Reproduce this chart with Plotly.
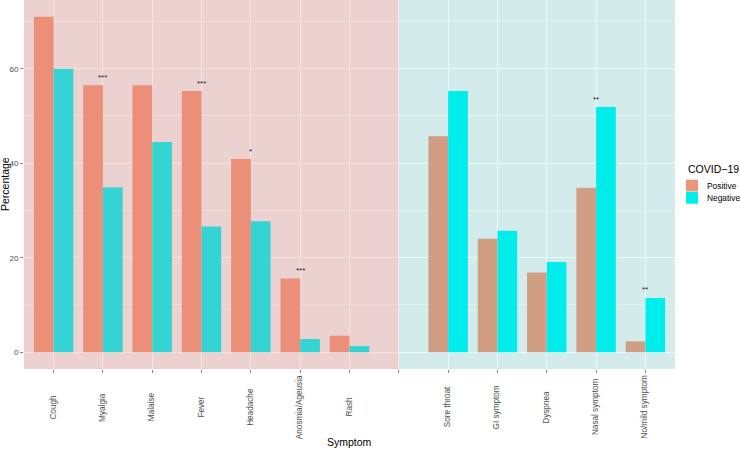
import plotly.graph_objects as go

# ---- data ----
symptoms = ["Cough", "Myalgia", "Malaise", "Fever", "Headache", "Anosmia/Ageusia", "Rash",
            "Sore throat", "GI symptom", "Dyspnea", "Nasal symptom", "No/mild symptom"]
axis_order = ["Cough", "Myalgia", "Malaise", "Fever", "Headache", "Anosmia/Ageusia", "Rash",
              " ", "Sore throat", "GI symptom", "Dyspnea", "Nasal symptom", "No/mild symptom"]
positive = [71.0, 56.5, 56.5, 55.3, 40.9, 15.6, 3.5, 45.7, 24.0, 16.9, 34.8, 2.3]
negative = [60.0, 34.9, 44.5, 26.6, 27.7, 2.8, 1.3, 55.3, 25.7, 19.1, 51.9, 11.5]
signif = ["", "***", "", "***", "*", "***", "", "", "", "", "**", "**"]
y_ticks = [0, 20, 40, 60]
groups = ["Positive", "Negative"]
legend_title = "COVID\u221219"

FONT = "Liberation Sans, Arial, Helvetica, sans-serif"
COLORS = {"Positive": "#E9967A", "Negative": "#00EEEE"}

fig = go.Figure()
for g, vals in zip(groups, [positive, negative]):
    fig.add_trace(go.Bar(x=symptoms, y=vals, name=g, showlegend=False,
                         marker=dict(color=COLORS[g], line=dict(width=0))))

n = len(axis_order)
gap_idx = axis_order.index(" ")
xr = [-0.6, n - 1 + 0.6]
ymax = max(max(positive), max(negative))
yr = [-0.05 * ymax, ymax * 1.05]

# plot-area geometry in pixels (for placing legend / labels)
L, R, T, B = 24, 65, 0, 80
W, H = 740, 449
pw, ph = W - L - R, H - T - B


def px_x(px):
    return (px - L) / pw


def px_y(py):
    return (H - B - py) / ph


shapes = [
    dict(type="rect", xref="x", yref="paper", x0=xr[0], x1=gap_idx, y0=0, y1=1,
         fillcolor="rgb(240,120,120)", opacity=0.22, line=dict(width=0), layer="above"),
    dict(type="rect", xref="x", yref="paper", x0=gap_idx, x1=xr[1], y0=0, y1=1,
         fillcolor="rgb(0,235,228)", opacity=0.10, line=dict(width=0), layer="above"),
]

annotations = []
# significance stars
for s, p, ng, star in zip(symptoms, positive, negative, signif):
    if star:
        annotations.append(dict(x=s, y=max(p, ng) + 0.3, xref="x", yref="y", text=star,
                                showarrow=False, yanchor="bottom", xanchor="center",
                                font=dict(family=FONT, size=8, color="#222222")))
# x tick labels (rotated, centred like ggplot)
for c in axis_order:
    if c.strip():
        annotations.append(dict(x=c, y=px_y(407), xref="x", yref="paper", text=c,
                                textangle=-90, showarrow=False, xanchor="center",
                                yanchor="middle",
                                font=dict(family=FONT, size=8.2, color="#4D4D4D")))
# axis titles
annotations.append(dict(x=0.5, y=px_y(442), xref="paper", yref="paper", text="Symptom",
                        showarrow=False, xanchor="center", yanchor="middle",
                        font=dict(family=FONT, size=10.5, color="black")))
annotations.append(dict(x=px_x(4.5), y=0.5, xref="paper", yref="paper", text="Percentage",
                        textangle=-90, showarrow=False, xanchor="center", yanchor="middle",
                        font=dict(family=FONT, size=10.5, color="black")))

# legend (ggplot-style layout)
annotations.append(dict(x=px_x(686), y=px_y(169), xref="paper", yref="paper",
                        text=legend_title, showarrow=False, xanchor="left", yanchor="middle",
                        font=dict(family=FONT, size=10.5, color="black")))
key_top = 179.7
key_h = 12.2
for i, g in enumerate(groups):
    y0p = key_top + i * key_h
    shapes.append(dict(type="rect", xref="paper", yref="paper",
                       x0=px_x(686), x1=px_x(698), y0=px_y(y0p + key_h - 0.4), y1=px_y(y0p),
                       fillcolor=COLORS[g], line=dict(width=0), layer="above"))
    annotations.append(dict(x=px_x(705), y=px_y(y0p + key_h / 2), xref="paper", yref="paper",
                            text=g, showarrow=False, xanchor="left", yanchor="middle",
                            font=dict(family=FONT, size=8.4, color="black")))

fig.update_layout(
    width=W, height=H,
    margin=dict(l=L, r=R, t=T, b=B, autoexpand=False),
    paper_bgcolor="white", plot_bgcolor="#EBEBEB",
    barmode="group", bargap=0.2, bargroupgap=0.0,
    font=dict(family=FONT, size=8, color="#4D4D4D"),
    shapes=shapes, annotations=annotations,
    showlegend=False,
)
fig.update_xaxes(type="category", categoryorder="array", categoryarray=axis_order,
                 range=xr, showticklabels=False, ticks="outside", ticklen=3,
                 tickcolor="#333333", tickwidth=0.6, showgrid=True, gridcolor="white",
                 gridwidth=1.1, zeroline=False, showline=False, fixedrange=True,
                 automargin=False)
fig.update_yaxes(range=yr, tickvals=y_ticks, ticks="outside", ticklen=3,
                 tickcolor="#333333", tickwidth=0.6, showgrid=True, gridcolor="white",
                 gridwidth=1.1, zeroline=False, showline=False,
                 tickfont=dict(family=FONT, size=8, color="#4D4D4D"),
                 minor=dict(dtick=10, showgrid=True, gridcolor="white", gridwidth=0.5),
                 fixedrange=True, automargin=False)

fig.write_html("out.html",
               config={"displayModeBar": False, "staticPlot": True},
               post_script="document.body.style.margin='0px';"
                           "document.body.style.overflow='hidden';")
